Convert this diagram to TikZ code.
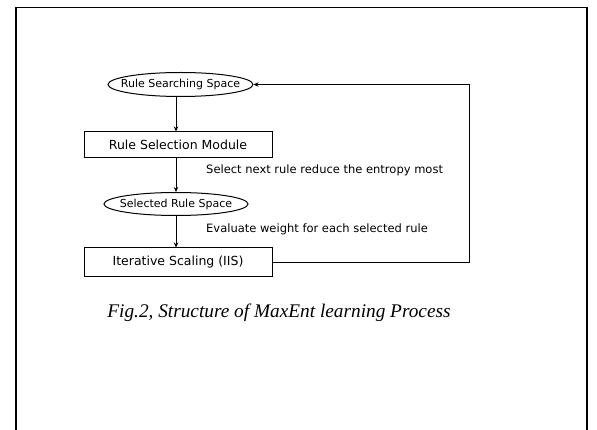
\documentclass[tikz,border=0pt]{standalone}
\usepackage{fontspec}
\setmainfont{Liberation Serif}
\newfontfamily\diagfont{DejaVu Sans}
\usetikzlibrary{shapes.geometric,arrows.meta}
\begin{document}
\begin{tikzpicture}[x=1pt,y=-1pt,
  every node/.style={inner sep=0pt},
  dfont/.style={font=\diagfont\fontsize{11.5}{13}\selectfont},
  ell/.style={draw, ellipse, line width=1pt, font=\diagfont\fontsize{11}{13}\selectfont, inner xsep=-18pt, inner ysep=0pt},
  rbox/.style={draw, rectangle, line width=1pt, font=\diagfont\fontsize{12.5}{14}\selectfont},
  lbl/.style={anchor=west, dfont},
  arr/.style={-{Stealth[length=5pt,width=4.5pt]}, line width=1pt},
  frame/.style={line width=1.3pt}]
\useasboundingbox (0,0) rectangle (597,430);
\coordinate (fbl) at (16,430);
\coordinate (ftl) at (16,7.5);
\coordinate (ftr) at (587,7.5);
\coordinate (fbr) at (587,430);
\draw[frame] (fbl) -- (ftl) -- (ftr) -- (fbr);
\node[ell, minimum width=145, minimum height=24] (rss) at (180.5,84.5) {Rule Searching Space};
\node[rbox, minimum width=188, minimum height=26] (rsm) at (178,145) {Rule Selection Module};
\node[ell, minimum width=144, minimum height=23] (srs) at (176,204) {Selected Rule Space};
\node[rbox, minimum width=188, minimum height=29] (iis) at (178,262.5) {Iterative Scaling (IIS)};
\node[lbl] (l1) at (206,170) {Select next rule reduce the entropy most};
\node[lbl] (l2) at (206,229) {Evaluate weight for each selected rule};
\node[font=\itshape\fontsize{19.3}{23}\selectfont] (cap) at (279,313) {Fig.2, Structure of MaxEnt learning Process};
\coordinate (corner) at (469,84.5);
\draw[arr] ([xshift=-4.5pt]rss.south) -- ([xshift=-4.5pt]rss.south |- rsm.north);
\draw[arr] (srs.north |- rsm.south) -- (srs.north);
\draw[arr] (srs.south) -- (srs.south |- iis.north);
\draw[arr] (iis.east) -| (corner) -- (rss.east);
\end{tikzpicture}
\end{document}
